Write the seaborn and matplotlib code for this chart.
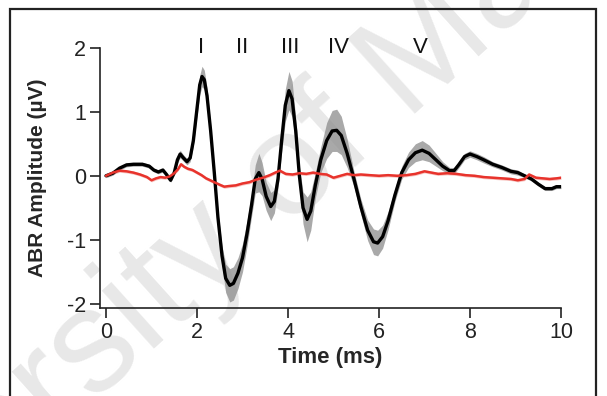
import numpy as np
import matplotlib
matplotlib.use("Agg")
import matplotlib.pyplot as plt
import seaborn as sns

# mean ABR trace (black) with its error band
time_ms = [0.00, 0.15, 0.30, 0.45, 0.60, 0.80, 0.95, 1.05, 1.15, 1.25, 1.33, 1.42, 1.50, 1.57,
           1.63, 1.70, 1.78, 1.85, 1.92, 2.00, 2.06, 2.11, 2.16, 2.22, 2.30, 2.38, 2.46, 2.55,
           2.63, 2.72, 2.80, 2.90, 3.00, 3.10, 3.20, 3.28, 3.36, 3.43, 3.52, 3.62, 3.70, 3.78,
           3.86, 3.94, 4.02, 4.09, 4.17, 4.25, 4.33, 4.42, 4.50, 4.60, 4.72, 4.85, 4.97, 5.07,
           5.17, 5.30, 5.45, 5.60, 5.75, 5.88, 5.97, 6.08, 6.20, 6.35, 6.50, 6.65, 6.80, 6.95,
           7.10, 7.25, 7.40, 7.55, 7.65, 7.75, 7.88, 8.00, 8.15, 8.30, 8.50, 8.70, 8.90, 9.05,
           9.20, 9.35, 9.50, 9.65, 9.80, 9.90, 10.00]
abr_mean = [0.00, 0.04, 0.12, 0.17, 0.18, 0.18, 0.15, 0.09, 0.06, 0.09, 0.02, -0.07, 0.05, 0.25,
            0.34, 0.28, 0.22, 0.28, 0.55, 1.05, 1.42, 1.55, 1.50, 1.25, 0.70, 0.05, -0.65, -1.25,
            -1.60, -1.71, -1.68, -1.52, -1.28, -0.90, -0.45, -0.05, 0.05, -0.05, -0.32, -0.48, -0.40, -0.05,
            0.55, 1.10, 1.33, 1.20, 0.70, 0.00, -0.50, -0.68, -0.55, -0.15, 0.25, 0.55, 0.70, 0.71,
            0.63, 0.35, -0.05, -0.48, -0.85, -1.03, -1.05, -0.95, -0.70, -0.30, 0.05, 0.25, 0.36, 0.40,
            0.35, 0.25, 0.15, 0.08, 0.08, 0.17, 0.30, 0.34, 0.30, 0.25, 0.18, 0.13, 0.07, 0.05,
            0.00, -0.05, -0.13, -0.20, -0.20, -0.17, -0.17]
abr_sem = [0.03, 0.03, 0.03, 0.03, 0.03, 0.03, 0.03, 0.03, 0.03, 0.03, 0.03, 0.03, 0.04, 0.05,
           0.06, 0.05, 0.05, 0.06, 0.08, 0.12, 0.15, 0.16, 0.15, 0.13, 0.10, 0.08, 0.10, 0.15,
           0.22, 0.26, 0.26, 0.24, 0.22, 0.20, 0.18, 0.22, 0.30, 0.26, 0.22, 0.22, 0.18, 0.15,
           0.18, 0.25, 0.30, 0.28, 0.20, 0.15, 0.25, 0.35, 0.30, 0.20, 0.20, 0.28, 0.32, 0.33,
           0.30, 0.22, 0.12, 0.12, 0.16, 0.20, 0.20, 0.18, 0.14, 0.10, 0.10, 0.12, 0.14, 0.15,
           0.13, 0.10, 0.07, 0.05, 0.05, 0.05, 0.05, 0.05, 0.05, 0.05, 0.04, 0.04, 0.04, 0.04,
           0.03, 0.03, 0.03, 0.03, 0.03, 0.03, 0.03]

# control trace (red)
ctrl_time = [0.00, 0.15, 0.30, 0.45, 0.60, 0.75, 0.90, 1.00, 1.10, 1.20, 1.30, 1.40, 1.50, 1.58,
             1.65, 1.72, 1.80, 1.90, 2.00, 2.10, 2.20, 2.35, 2.50, 2.60, 2.70, 2.85, 3.00, 3.15,
             3.30, 3.45, 3.60, 3.72, 3.82, 3.95, 4.10, 4.25, 4.40, 4.55, 4.70, 4.85, 5.00, 5.15,
             5.30, 5.45, 5.60, 5.80, 6.00, 6.20, 6.40, 6.60, 6.80, 7.00, 7.15, 7.30, 7.50, 7.70,
             7.90, 8.10, 8.30, 8.50, 8.70, 8.90, 9.05, 9.20, 9.30, 9.45, 9.60, 9.75, 9.90, 10.00]
ctrl_mean = [0.00, 0.05, 0.08, 0.07, 0.05, 0.02, -0.02, -0.07, -0.04, -0.02, -0.03, -0.01, 0.04, 0.10,
             0.18, 0.14, 0.11, 0.09, 0.05, 0.01, -0.04, -0.09, -0.14, -0.17, -0.16, -0.15, -0.12, -0.10,
             -0.06, -0.03, 0.01, 0.05, 0.08, 0.03, 0.02, 0.04, 0.03, 0.05, 0.03, 0.02, -0.03, 0.00,
             0.03, 0.01, 0.02, 0.01, 0.00, 0.01, 0.00, 0.01, 0.03, 0.07, 0.05, 0.03, 0.04, 0.03,
             0.01, 0.00, -0.02, -0.03, -0.04, -0.05, -0.07, -0.05, 0.02, -0.03, -0.04, -0.05, -0.04, -0.03]

# wave labels
wave_names = ["I", "II", "III", "IV", "V"]
wave_pos = [2.10, 2.99, 4.04, 5.10, 6.90]

sns.set_style("ticks")
plt.rcParams['font.family'] = ['Liberation Sans', 'DejaVu Sans']
plt.rcParams['axes.unicode_minus'] = False

fig = plt.figure(figsize=(6.07, 3.96), dpi=100)
fig.patch.set_facecolor('white')

# faint watermark behind everything
fig.text(0.40, 0.45, "University of Malaya", rotation=42, fontsize=105,
         color='#e8e8e8', ha='center', va='center', zorder=-1)

# frame around the figure
fig.add_artist(plt.Rectangle((10 / 607, -0.05), 586 / 607, 1.027, transform=fig.transFigure,
                             fill=False, ec='#222222', lw=1.6))

ax = fig.add_axes([100 / 607, 88 / 396, 461 / 607, 260.3 / 396])
ax.patch.set_alpha(0)

mean = np.array(abr_mean)
sem = np.array(abr_sem)
ax.fill_between(time_ms, mean - sem, mean + sem, color='#8c8c8c', alpha=0.75, lw=0)
sns.lineplot(x=time_ms, y=abr_mean, ax=ax, color='black', lw=2.4)

ctrl = np.array(ctrl_mean)
ax.fill_between(ctrl_time, ctrl - 0.025, ctrl + 0.025, color='#f2a09a', alpha=0.6, lw=0)
sns.lineplot(x=ctrl_time, y=ctrl_mean, ax=ax, color='#e8332c', lw=1.8)

for name, xpos in zip(wave_names, wave_pos):
    ax.text(xpos, 2.01, name, ha='center', va='center', fontsize=16, color='#111111')

ax.set_xlim(-0.132, 10)
ax.set_ylim(-2.064, 2.0)
ax.set_xticks([0, 2, 4, 6, 8, 10])
ax.set_yticks([-2, -1, 0, 1, 2])
ax.set_xlabel("Time (ms)", fontsize=16, fontweight='bold', labelpad=3)
ax.set_ylabel("ABR Amplitude (µV)", fontsize=15, fontweight='bold', labelpad=14)
ax.tick_params(axis='both', direction='out', length=7, width=1.2, labelsize=15.5, color='#222222',
               labelcolor='#222222', pad=3)
for side in ['left', 'bottom']:
    ax.spines[side].set_linewidth(1.2)
    ax.spines[side].set_color('#222222')
sns.despine(ax=ax)

fig.savefig('out.png', dpi=100)
